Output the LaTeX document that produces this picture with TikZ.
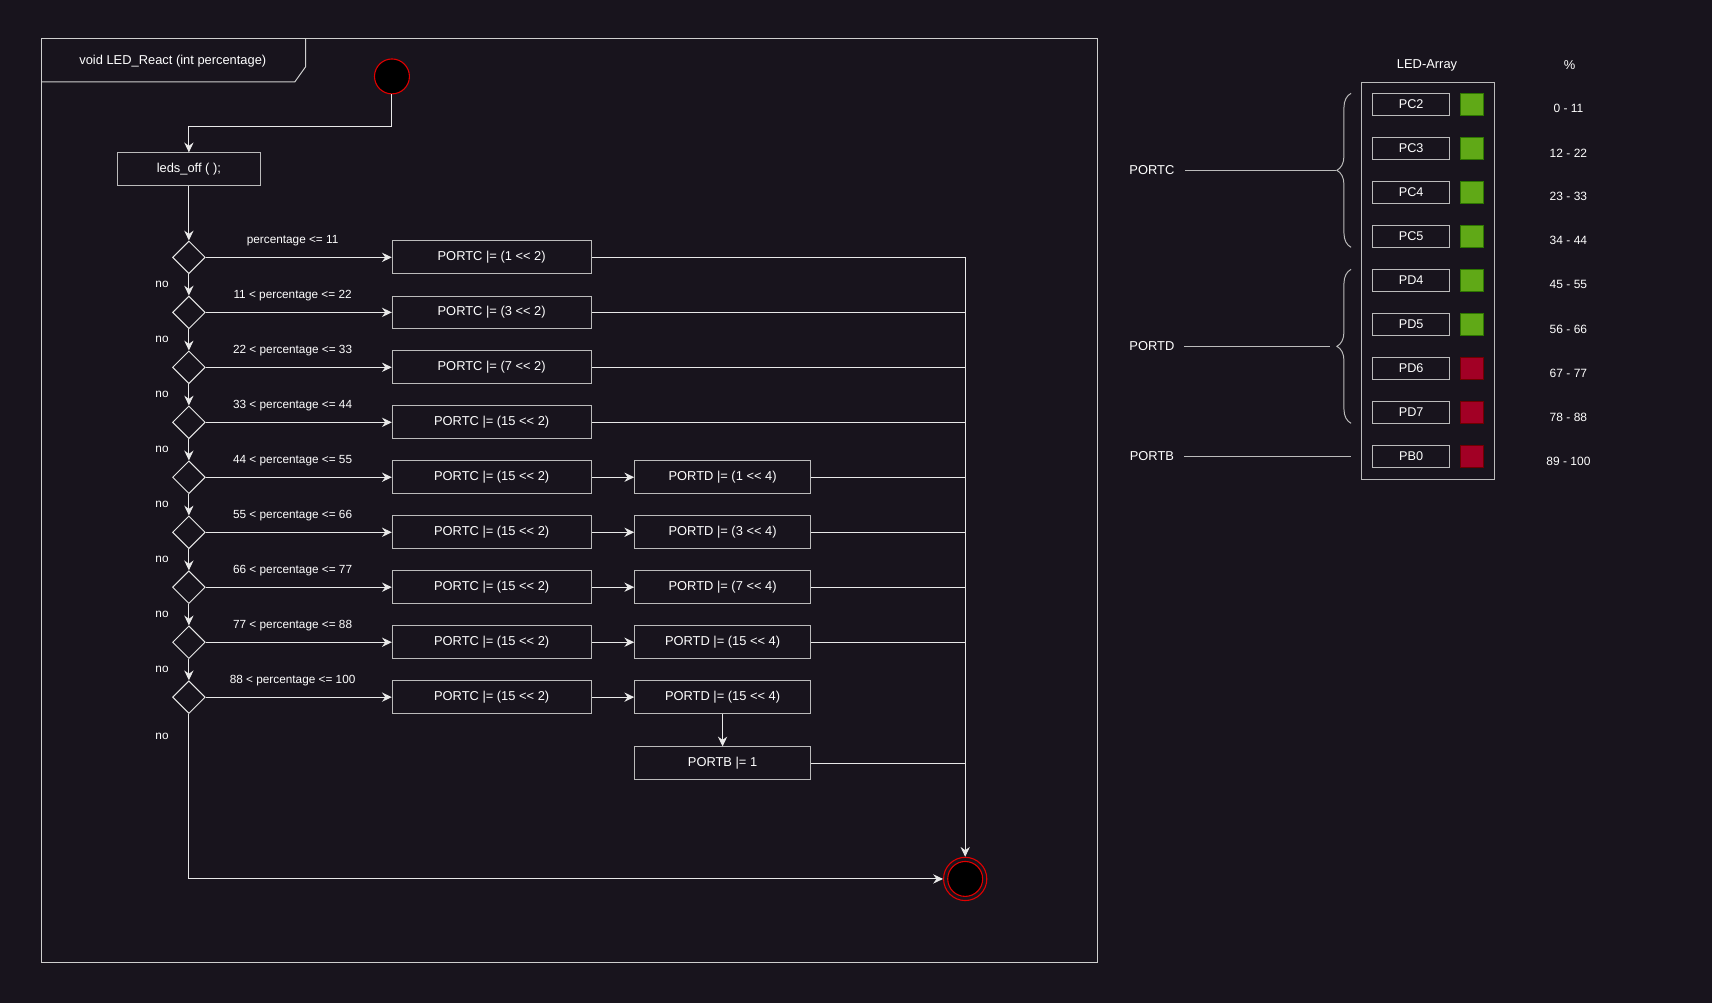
\documentclass[tikz,border=0pt]{standalone}
\usepackage{fontspec}
\setmainfont{Liberation Sans}[Ligatures=TeXOff]
\usetikzlibrary{arrows.meta,shapes.geometric,decorations.pathreplacing}
\definecolor{bg}{HTML}{18141D}
\definecolor{boxline}{HTML}{BBBBBB}
\definecolor{frameline}{HTML}{CFCFCF}
\definecolor{wline}{HTML}{E8E8E8}
\definecolor{ledgreen}{HTML}{60A917}
\definecolor{ledgreenb}{HTML}{2D7600}
\definecolor{ledred}{HTML}{A20025}
\definecolor{ledredb}{HTML}{6F0000}
\definecolor{circred}{HTML}{E00000}
\begin{document}
\begin{tikzpicture}[x=1pt,y=-1pt,
  txt/.style={text=white,inner sep=0pt,font=\fontsize{11.8}{14}\selectfont},
  lbl/.style={text=white,inner sep=0pt,font=\fontsize{10.8}{13}\selectfont},
  proc/.style={draw=boxline,line width=0.9pt,fill=bg,minimum width=182pt,minimum height=30pt,inner sep=0pt,text=white,font=\fontsize{11.8}{14}\selectfont},
  proctwo/.style={proc,minimum width=161pt},
  dec/.style={diamond,draw=wline,line width=0.9pt,minimum width=30pt,minimum height=30pt,inner sep=0pt,aspect=1},
  conn/.style={draw=wline,line width=0.9pt},
  arr/.style={conn,-{Stealth[length=9pt,width=8.5pt,inset=3pt]}},
  pin/.style={draw=boxline,line width=0.9pt,minimum width=71pt,minimum height=20.5pt,inner sep=0pt,text=white,font=\fontsize{11.6}{14}\selectfont},
  ledg/.style={fill=ledgreen,draw=ledgreenb,line width=0.9pt,minimum width=21pt,minimum height=20.5pt,inner sep=0pt},
  ledr/.style={fill=ledred,draw=ledredb,line width=0.9pt,minimum width=21pt,minimum height=20.5pt,inner sep=0pt},
  pct/.style={text=white,inner sep=0pt,font=\fontsize{11}{13}\selectfont},
  brc/.style={draw=boxline,line width=0.9pt,decorate,decoration={brace,amplitude=13pt,aspect=0.5}}
]
\fill[bg] (0,0) rectangle (1568,918.7);
\useasboundingbox (0,0) rectangle (1568,918.7);

% frame
\draw[frameline,line width=0.9pt] (38,35) rectangle (1005.4,881.7);
\draw[frameline,line width=0.9pt] (38,75) -- (270,75) -- (280,61) -- (280,35);
\node[txt] (title) at (158.3,55.6) {void LED\_React (int percentage)};

% start / end
\node[circle,fill=black,draw=circred,line width=1pt,minimum size=32pt,inner sep=0pt] (start) at (359,70) {};
\node[circle,draw=circred,line width=1pt,minimum size=39.6pt,inner sep=0pt] (end) at (884,805) {};
\node[circle,fill=black,draw=circred,line width=1pt,minimum size=32pt,inner sep=0pt] (endin) at (884,805) {};

\node[proc,minimum width=131pt] (leds) at (173,155) {leds\_off ( );};
\draw[arr] (start.south) -- ++(0,29) -| (leds.north);

% decisions
\foreach \i/\y in {1/235.7,2/286.1,3/336.4,4/386.8,5/437.1,6/487.5,7/537.8,8/588.2,9/638.5}{
  \node[dec] (d\i) at (173,\y) {};
}
\draw[arr] (leds.south) -- (d1.north);
\foreach \i/\j in {1/2,2/3,3/4,4/5,5/6,6/7,7/8,8/9}{
  \draw[arr] (d\i.south) -- (d\j.north);
  \path (d\i.south) -- (d\j.north) coordinate[midway] (m\i);
  \node[lbl] at (m\i -| 148.4,0) {no};
}
\node[lbl] (nolast) at (148.4,674) {no};
\draw[arr] (d9.south) |- (end.west);

% first column
\node[proc] (c1) at (450.3,235.7) {PORTC |= (1 << 2)};
\node[proc] (c2) at (450.3,286.1) {PORTC |= (3 << 2)};
\node[proc] (c3) at (450.3,336.4) {PORTC |= (7 << 2)};
\node[proc] (c4) at (450.3,386.8) {PORTC |= (15 << 2)};
\node[proc] (c5) at (450.3,437.1) {PORTC |= (15 << 2)};
\node[proc] (c6) at (450.3,487.5) {PORTC |= (15 << 2)};
\node[proc] (c7) at (450.3,537.8) {PORTC |= (15 << 2)};
\node[proc] (c8) at (450.3,588.2) {PORTC |= (15 << 2)};
\node[proc] (c9) at (450.3,638.5) {PORTC |= (15 << 2)};

% conditions
\foreach \i/\t in {1/{percentage <= 11},2/{11 < percentage <= 22},3/{22 < percentage <= 33},4/{33 < percentage <= 44},5/{44 < percentage <= 55},6/{55 < percentage <= 66},7/{66 < percentage <= 77},8/{77 < percentage <= 88},9/{88 < percentage <= 100}}{
  \draw[arr] (d\i.east) -- (c\i.west);
  \node[lbl] at ([yshift=15.3pt]d\i.center -| 268,0) {\t};
}

% second column
\node[proctwo] (e5) at (661.8,437.1) {PORTD |= (1 << 4)};
\node[proctwo] (e6) at (661.8,487.5) {PORTD |= (3 << 4)};
\node[proctwo] (e7) at (661.8,537.8) {PORTD |= (7 << 4)};
\node[proctwo] (e8) at (661.8,588.2) {PORTD |= (15 << 4)};
\node[proctwo] (e9) at (661.8,638.5) {PORTD |= (15 << 4)};
\node[proctwo] (f) at (661.8,699.1) {PORTB |= 1};
\foreach \i in {5,6,7,8,9}{\draw[arr] (c\i.east) -- (e\i.west);}
\draw[arr] (e9.south) -- (f.north);

% merge
\foreach \n in {c1,c2,c3,c4,e5,e6,e7,e8,f}{\draw[conn] (\n.east) -- (\n.east -| end);}
\draw[arr] (c1.east -| end) -- (end.north);

% right panel
\node[txt] (ledarr) at (1307,59.5) {LED-Array};
\node[txt] (pcth) at (1437.5,59.5) {\%};
\node[draw=boxline,line width=0.9pt,minimum width=121.5pt,minimum height=363.3pt,inner sep=0pt] (array) at (1307.75,257.05) {};
\foreach \j/\p/\s/\r in {0/PC2/ledg/0 - 11,1/PC3/ledg/12 - 22,2/PC4/ledg/23 - 33,3/PC5/ledg/34 - 44,4/PD4/ledg/45 - 55,5/PD5/ledg/56 - 66,6/PD6/ledr/67 - 77,7/PD7/ledr/78 - 88,8/PB0/ledr/89 - 100}{
  \pgfmathsetmacro{\yy}{95.7+40.3*\j}
  \node[pin] (p\j) at (1292.5,\yy) {\p};
  \node[\s] (l\j) at (1348,\yy) {};
  \node[pct] (r\j) at (1436.5,\yy+4) {\r};
}
\draw[brc] (1237.4,226.5) -- (1237.4,85.5);
\draw[brc] (1237.4,387.7) -- (1237.4,246.7);
\node[txt] (portc) at (1055,155.7) {PORTC};
\node[txt] (portd) at (1055,316.9) {PORTD};
\node[txt] (portb) at (1055,418.1) {PORTB};
\coordinate (bc) at (1223.7,155.7);
\coordinate (bd) at (1218,316.9);
\coordinate (bb) at (1237.4,418.1);
\draw[draw=boxline,line width=0.9pt,shorten <=10pt] (portc.east) -- (bc);
\draw[draw=boxline,line width=0.9pt,shorten <=9pt] (portd.east) -- (bd);
\draw[draw=boxline,line width=0.9pt,shorten <=9pt] (portb.east) -- (bb);
\end{tikzpicture}
\end{document}
